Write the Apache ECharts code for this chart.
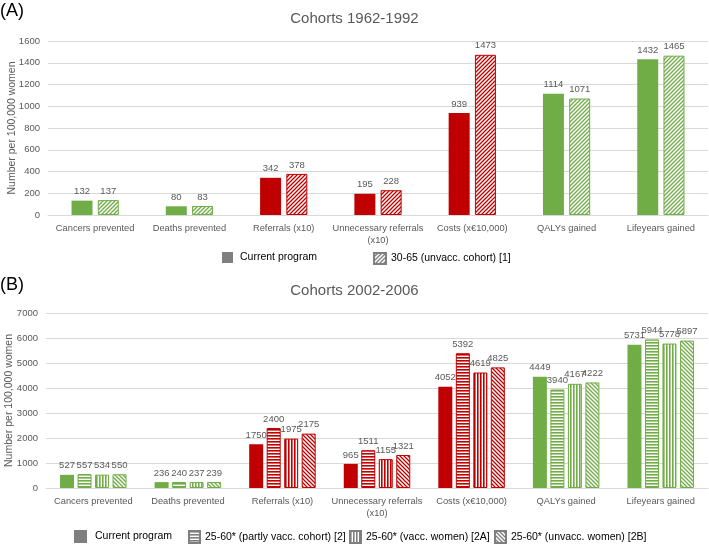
<!DOCTYPE html>
<html>
<head>
<meta charset="utf-8">
<script src="https://cdn.jsdelivr.net/npm/echarts@6/dist/echarts.min.js"></script>
<style>
html,body{margin:0;padding:0;background:#fff;}
#chart{width:709px;height:544px;}
</style>
</head>
<body>
<div id="chart"></div>
<script>
// ---- data ----
var categories = ["Cancers prevented","Deaths prevented","Referrals (x10)","Unnecessary referrals\n(x10)","Costs (x€10,000)","QALYs gained","Lifeyears gained"];
var categoryKind = ["benefit","benefit","harm","harm","harm","benefit","benefit"];

var aSeriesNames = ["Current program","30-65 (unvacc. cohort) [1]"];
var aCurrent = [132,80,342,195,939,1114,1432];
var aUnvacc = [137,83,378,228,1473,1071,1465];
var aTicks = [0,200,400,600,800,1000,1200,1400,1600];

var bSeriesNames = ["Current program","25-60* (partly vacc. cohort) [2]","25-60* (vacc. women) [2A]","25-60* (unvacc. women) [2B]"];
var bCurrent = [527,236,1750,965,4052,4449,5731];
var bPartly = [557,240,2400,1511,5392,3940,5944];
var bVacc = [534,237,1975,1155,4619,4167,5778];
var bUnvacc = [550,239,2175,1321,4825,4222,5897];
var bTicks = [0,1000,2000,3000,4000,5000,6000,7000];

// ---- styles ----
var RED = '#C00000', GREEN = '#70AD47', GREY = '#7F7F7F', TXT = '#595959';
var FONT = '"Liberation Sans", Arial, sans-serif';
function kindColor(k){ return k === 'harm' ? RED : GREEN; }

function makePattern(kind, fg){
  var s = 4;
  var c = document.createElement('canvas');
  if (kind === 'hstripe' || kind === 'vstripe') { c.width = 3; c.height = 3; }
  else { c.width = s; c.height = s; }
  var ctx = c.getContext('2d');
  ctx.fillStyle = '#fff';
  ctx.fillRect(0,0,c.width,c.height);
  ctx.fillStyle = fg; ctx.strokeStyle = fg;
  if (kind === 'hstripe') {
    ctx.fillRect(0,0,3,1.6);
  } else if (kind === 'vstripe') {
    ctx.fillRect(0,0,1.6,3);
  } else {
    ctx.lineWidth = 1.3;
    ctx.beginPath();
    if (kind === 'up') { // "/"
      ctx.moveTo(0,s); ctx.lineTo(s,0);
      ctx.moveTo(-1,1); ctx.lineTo(1,-1);
      ctx.moveTo(s-1,s+1); ctx.lineTo(s+1,s-1);
    } else { // "\"
      ctx.moveTo(0,0); ctx.lineTo(s,s);
      ctx.moveTo(-1,s-1); ctx.lineTo(1,s+1);
      ctx.moveTo(s-1,-1); ctx.lineTo(s+1,1);
    }
    ctx.stroke();
  }
  return {image: c, repeat: 'repeat'};
}

function buildData(values, pattern){
  return values.map(function(v,i){
    var col = kindColor(categoryKind[i]);
    if (!pattern) return {value: v, itemStyle: {color: col}};
    return {value: v, itemStyle: {color: makePattern(pattern, col), borderColor: col, borderWidth: 1}};
  });
}

function seriesDef(name, values, pattern, gridIdx, barWidth){
  return {
    name: name, type: 'bar', xAxisIndex: gridIdx, yAxisIndex: gridIdx,
    barWidth: barWidth, barGap: '25%',
    data: buildData(values, pattern),
    itemStyle: pattern ? {color: makePattern(pattern, GREY), borderColor: GREY, borderWidth: 1} : {color: GREY},
    label: {show: true, position: 'top', distance: 4, color: TXT, fontSize: 9.5, fontFamily: FONT},
    animation: false
  };
}

var catAxis = function(gi){
  return {
    type: 'category', gridIndex: gi, data: categories,
    axisTick: {show: false},
    axisLine: {lineStyle: {color: '#D9D9D9'}},
    axisLabel: {color: TXT, fontSize: 9.3, fontFamily: FONT, margin: 7, lineHeight: 12, interval: 0}
  };
};
var valAxis = function(gi, ticks, gap){
  return {
    type: 'value', gridIndex: gi, min: ticks[0], max: ticks[ticks.length-1],
    interval: ticks[1]-ticks[0],
    name: 'Number per 100,000 women', nameLocation: 'middle', nameGap: gap,
    nameMoveOverlap: false,
    nameTextStyle: {color: TXT, fontSize: 10.5, fontFamily: FONT},
    axisLine: {show: false}, axisTick: {show: false},
    axisLabel: {color: TXT, fontSize: 9.5, fontFamily: FONT, margin: 8, formatter: function(v){ return String(v); }},
    splitLine: {lineStyle: {color: '#D9D9D9'}}
  };
};

function legendDef(name, left, top, w, h, textPad){
  return {
    data: [name], left: left, top: top, padding: 0,
    itemWidth: w, itemHeight: h, icon: 'rect',
    textStyle: {color: '#000', fontSize: 10.5, fontFamily: FONT, padding: [0,0,0,textPad || 0]}
  };
}

var option = {
  backgroundColor: '#fff',
  animation: false,
  title: [
    {text: '(A)', left: 0, top: 2, padding: 0, textStyle: {color: '#000', fontSize: 18, fontWeight: 'normal', fontFamily: FONT}},
    {text: 'Cohorts 1962-1992', left: 'center', top: 11, padding: 0, textStyle: {color: TXT, fontSize: 15, fontWeight: 'normal', fontFamily: FONT}},
    {text: '(B)', left: 0, top: 276, padding: 0, textStyle: {color: '#000', fontSize: 18, fontWeight: 'normal', fontFamily: FONT}},
    {text: 'Cohorts 2002-2006', left: 'center', top: 283, padding: 0, textStyle: {color: TXT, fontSize: 15, fontWeight: 'normal', fontFamily: FONT}}
  ],
  legend: [
    legendDef(aSeriesNames[0], 222, 252, 11, 11, 2),
    legendDef(aSeriesNames[1], 373, 252, 12, 11, 0),
    legendDef(bSeriesNames[0], 74, 530, 13, 13, 3),
    legendDef(bSeriesNames[1], 188, 530, 11, 12, 0),
    legendDef(bSeriesNames[2], 349, 530, 11, 12, 0),
    legendDef(bSeriesNames[3], 494, 530, 11, 12, 0)
  ],
  grid: [
    {left: 48, right: 1, top: 41, bottom: 329, outerBoundsMode: 'none', containLabel: false},
    {left: 46, right: 1, top: 313, bottom: 56, outerBoundsMode: 'none', containLabel: false}
  ],
  xAxis: [catAxis(0), catAxis(1)],
  yAxis: [valAxis(0, aTicks, 30), valAxis(1, bTicks, 31)],
  series: [
    seriesDef(aSeriesNames[0], aCurrent, null, 0, 21),
    seriesDef(aSeriesNames[1], aUnvacc, 'up', 0, 21),
    seriesDef(bSeriesNames[0], bCurrent, null, 1, 14),
    seriesDef(bSeriesNames[1], bPartly, 'hstripe', 1, 14),
    seriesDef(bSeriesNames[2], bVacc, 'vstripe', 1, 14),
    seriesDef(bSeriesNames[3], bUnvacc, 'down', 1, 14)
  ]
};

var chart = echarts.init(document.getElementById('chart'), null, {renderer: 'canvas'});
chart.setOption(option);
</script>
</body>
</html>
